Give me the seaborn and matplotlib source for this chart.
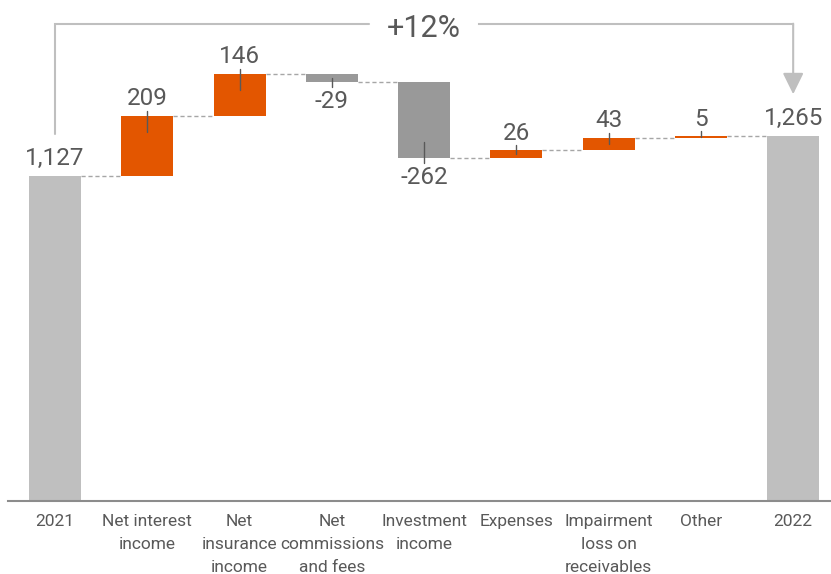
import matplotlib
matplotlib.use("Agg")
import matplotlib.pyplot as plt
import seaborn as sns
import pandas as pd

# ---------------- data ----------------
categories = ["2021", "Net interest\nincome", "Net\ninsurance\nincome",
              "Net\ncommissions\nand fees", "Investment\nincome", "Expenses",
              "Impairment\nloss on\nreceivables", "Other", "2022"]
start_value = 1127
deltas = [209, 146, -29, -262, 26, 43, 5]
end_value = 1265
value_labels = ["1,127", "209", "146", "-29", "-262", "26", "43", "5", "1,265"]
growth_label = "+12%"

# ---------------- build waterfall table ----------------
bottoms, heights, kinds, levels = [0], [start_value], ["total"], [start_value]
run = start_value
for d in deltas:
    if d >= 0:
        bottoms.append(run); heights.append(d); kinds.append("up")
    else:
        bottoms.append(run + d); heights.append(-d); kinds.append("down")
    run += d
    levels.append(run)
bottoms.append(0); heights.append(end_value); kinds.append("total")
levels.append(end_value)

df = pd.DataFrame({"category": categories, "height": heights, "kind": kinds})

colors = {"total": "#BFBFBF", "up": "#E35600", "down": "#999999"}
TEXT = "#595959"

sns.set_theme(style="white")
plt.rcParams["font.family"] = ["Roboto", "DejaVu Sans"]

W, H = 831, 574
fig = plt.figure(figsize=(W / 100, H / 100), dpi=100)
base_px = 500.5
ax = fig.add_axes([8 / W, (H - base_px) / H, 823 / W, base_px / H])

bw = 0.564
sns.barplot(data=df, x="category", y="height", hue="kind", palette=colors,
            dodge=False, width=bw, legend=False, errorbar=None, saturation=1,
            linewidth=0, ax=ax)

for p in ax.patches:
    h = p.get_height()
    if h != h or h == 0:
        continue
    idx = int(round(p.get_x() + p.get_width() / 2))
    p.set_y(bottoms[idx])

ymax = 1738
ax.set_xlim(-0.51, 8.41)
ax.set_ylim(0, ymax)
upp = ymax / base_px  # data units per pixel

sns.despine(ax=ax, left=True)
ax.spines["bottom"].set_color("#8C8C8C")
ax.spines["bottom"].set_linewidth(1.5)
ax.set_xlabel("")
ax.set_ylabel("")
ax.set_yticks([])
ax.tick_params(axis="x", length=0, pad=9.5, labelsize=12.5, labelcolor=TEXT)
for lbl in ax.get_xticklabels():
    lbl.set_linespacing(1.68)

# connectors
n = len(categories)
for i in range(n - 1):
    y = levels[i]
    ax.plot([i + bw / 2, i + 1 - bw / 2], [y, y], color="#A6A6A6", lw=1,
            dashes=(3, 2), zorder=1)

# value labels
lab_fs = 17.5
for i in range(n):
    if kinds[i] == "total":
        ax.annotate(value_labels[i], (i, heights[i]), xytext=(0, 8),
                    textcoords="offset points", ha="center", va="baseline",
                    fontsize=lab_fs, color=TEXT)
        continue
    b, h = bottoms[i], heights[i]
    if kinds[i] == "up":
        edge = b + h
        y_out = edge + 5 * upp
        y_in = max(edge - 16 * upp, edge - h / 2)
        ax.plot([i, i], [y_in, y_out], color=TEXT, lw=1, zorder=3)
        ax.annotate(value_labels[i], (i, edge), xytext=(0, 7.5),
                    textcoords="offset points", ha="center", va="baseline",
                    fontsize=lab_fs, color=TEXT)
    else:
        edge = b
        y_out = edge - 5 * upp
        y_in = min(edge + 16 * upp, edge + h / 2)
        ax.plot([i, i], [y_in, y_out], color=TEXT, lw=1, zorder=3)
        ax.annotate(value_labels[i], (i, edge), xytext=(0, -6),
                    textcoords="offset points", ha="center", va="top",
                    fontsize=lab_fs, color=TEXT)

# growth bracket
gap = 42 * upp
top_y = (base_px - 23.7) * upp
mid = (n - 1) / 2
bcol = "#BFBFBF"
ax.plot([0, 0, mid - 0.6], [start_value + gap, top_y, top_y], color=bcol,
        lw=1.5, solid_joinstyle="miter", clip_on=False)
ax.plot([mid + 0.6, n - 1], [top_y, top_y], color=bcol, lw=1.5,
        solid_capstyle="projecting", clip_on=False)
ax.annotate("", xy=(n - 1, end_value + gap), xytext=(n - 1, top_y),
            arrowprops=dict(arrowstyle="-|>,head_length=1.08,head_width=0.53",
                            color=bcol, lw=1.5, shrinkA=0, shrinkB=0),
            annotation_clip=False)
ax.text(mid, top_y - 13 * upp, growth_label, ha="center", va="baseline",
        fontsize=22, color=TEXT)

fig.savefig("out.png", dpi=100)
